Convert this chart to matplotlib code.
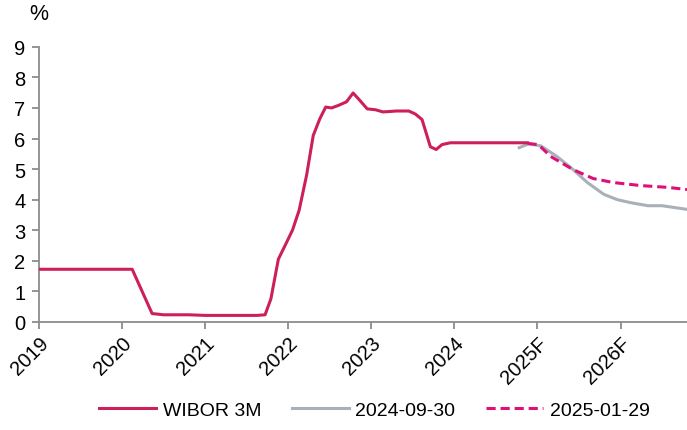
import matplotlib.pyplot as plt

plt.rcParams['font.family'] = ['Liberation Sans', 'DejaVu Sans']

# WIBOR 3M history (decimal year, %)
wibor_t = [2019.0, 2019.5, 2020.0, 2020.12, 2020.36, 2020.5, 2020.8, 2021.0,
           2021.4, 2021.62, 2021.72, 2021.79, 2021.88, 2021.97, 2022.05,
           2022.13, 2022.22, 2022.3, 2022.38, 2022.45, 2022.52, 2022.6,
           2022.7, 2022.78, 2022.86, 2022.95, 2023.05, 2023.14, 2023.2,
           2023.3, 2023.45, 2023.53, 2023.61, 2023.71, 2023.78, 2023.85,
           2023.95, 2024.2, 2024.5, 2024.88]
wibor_v = [1.72, 1.72, 1.72, 1.72, 0.27, 0.23, 0.23, 0.21,
           0.21, 0.21, 0.23, 0.75, 2.05, 2.55, 3.0,
           3.65, 4.8, 6.1, 6.65, 7.03, 7.0, 7.08,
           7.2, 7.49, 7.25, 6.97, 6.94, 6.87, 6.88,
           6.9, 6.9, 6.8, 6.62, 5.73, 5.64, 5.8,
           5.86, 5.86, 5.86, 5.86]

# forecast made 2024-09-30
fc_sep_t = [2024.78, 2024.89, 2025.04, 2025.24, 2025.43, 2025.6, 2025.8,
            2025.96, 2026.12, 2026.33, 2026.5, 2026.8]
fc_sep_v = [5.7, 5.82, 5.76, 5.4, 4.98, 4.56, 4.17,
            4.0, 3.9, 3.8, 3.8, 3.68]

# forecast made 2025-01-29
fc_jan_t = [2024.88, 2025.01, 2025.16, 2025.43, 2025.67, 2025.91,
            2026.24, 2026.57, 2026.8]
fc_jan_v = [5.84, 5.8, 5.41, 4.98, 4.69, 4.56,
            4.46, 4.4, 4.33]

year_ticks = [2019, 2020, 2021, 2022, 2023, 2024, 2025, 2026]
year_labels = ['2019', '2020', '2021', '2022', '2023', '2024', '2025F', '2026F']

fig = plt.figure(figsize=(6.87, 4.31), dpi=100)
ax = fig.add_axes([0.057, 0.251, 0.943, 0.638])

ax.plot(fc_sep_t, fc_sep_v, color='#A9B0B7', lw=2.2, label='2024-09-30', zorder=2)
ax.plot(wibor_t, wibor_v, color='#CC1F5C', lw=2.2, label='WIBOR 3M', zorder=3)
ax.plot(fc_jan_t, fc_jan_v, color='#DD0F78', lw=2.2, ls=(0, (3, 1.6)),
        label='2025-01-29', zorder=4)

ax.set_xlim(2019, 2026.8)
ax.set_ylim(0, 9)
ax.set_yticks(range(10))
ax.set_xticks(year_ticks)
ax.set_xticklabels(year_labels, rotation=45, ha='right', rotation_mode='anchor')

for s in ['top', 'right']:
    ax.spines[s].set_visible(False)
for s in ['left', 'bottom']:
    ax.spines[s].set_color('#8C8C8C')
    ax.spines[s].set_linewidth(1.3)
ax.tick_params(axis='both', colors='#8C8C8C', width=1.3, length=5,
               labelcolor='black', labelsize=14.5)
ax.tick_params(axis='x', pad=3)
ax.tick_params(axis='y', pad=5)

fig.text(0.043, 0.99, '%', fontsize=15.5, va='top')

handles, labels = ax.get_legend_handles_labels()
order = [1, 0, 2]
fig.legend([handles[i] for i in order], [labels[i] for i in order],
           loc='lower center', bbox_to_anchor=(0.545, -0.015), ncol=3,
           frameon=False, fontsize=14, handlelength=2.9, handletextpad=0.35,
           columnspacing=1.6)

fig.savefig('out.png', dpi=100)
